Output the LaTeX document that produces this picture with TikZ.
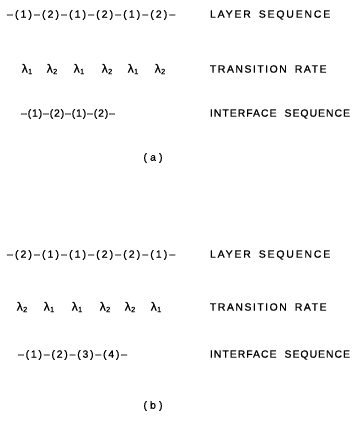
\documentclass[tikz,border=0pt]{standalone}
\usepackage{fontspec}
\setmainfont{Liberation Sans}[FakeBold=0.7]
\begin{document}
\begin{tikzpicture}[x=1pt,y=-1pt,
  every node/.style={inner sep=0pt,outer sep=0pt,font=\fontsize{10.5}{12}\selectfont},
  seq/.style={anchor=west},
  lab/.style={anchor=west},
  lam/.style={font=\fontsize{12}{14}\selectfont},
  captext/.style={font=\fontsize{10.5}{12}\selectfont\addfontfeature{LetterSpace=30}}]
\useasboundingbox (0,0) rectangle (354,423);
\newcommand{\lamsub}[1]{λ\hspace{0.3pt}\raisebox{-0.12em}{\fontsize{7.5}{8}\selectfont #1}}
\newcommand{\wsp}{\hspace{8pt}}
\newcommand{\lsp}[1]{\addfontfeature{LetterSpace=#1}}
% (a)
\node[seq,font=\fontsize{10.5}{12}\selectfont\lsp{20}] (a1) at (7,15) {–(1)–(2)–(1)–(2)–(1)–(2)–};
\node[lab,font=\fontsize{10.5}{12}\selectfont\lsp{17}] (la1) at (210,15) {LAYER\wsp SEQUENCE};
\node[lam] (al1) at (27,69) {\lamsub{1}};
\node[lam] (al2) at (52,69) {\lamsub{2}};
\node[lam] (al3) at (79,69) {\lamsub{1}};
\node[lam] (al4) at (107,69) {\lamsub{2}};
\node[lam] (al5) at (133,69) {\lamsub{1}};
\node[lam] (al6) at (160,69) {\lamsub{2}};
\node[lab,font=\fontsize{10.5}{12}\selectfont\lsp{14}] (la2) at (210,69) {TRANSITION\wsp RATE};
\node[seq,font=\fontsize{10.5}{12}\selectfont\lsp{8}] (a3) at (21,114) {–(1)–(2)–(1)–(2)–};
\node[lab,font=\fontsize{10.5}{12}\selectfont\lsp{9}] (la3) at (210,114) {INTERFACE\wsp SEQUENCE};
\node[captext] (capa) at (153,158) {(a)};
% (b)
\node[seq,font=\fontsize{10.5}{12}\selectfont\lsp{20}] (b1) at (7,255) {–(2)–(1)–(1)–(2)–(2)–(1)–};
\node[lab,font=\fontsize{10.5}{12}\selectfont\lsp{17}] (lb1) at (210,255) {LAYER\wsp SEQUENCE};
\node[lam] (bl1) at (22,307) {\lamsub{2}};
\node[lam] (bl2) at (49,307) {\lamsub{1}};
\node[lam] (bl3) at (77,307) {\lamsub{1}};
\node[lam] (bl4) at (105,307) {\lamsub{2}};
\node[lam] (bl5) at (130,307) {\lamsub{2}};
\node[lam] (bl6) at (156,307) {\lamsub{1}};
\node[lab,font=\fontsize{10.5}{12}\selectfont\lsp{14}] (lb2) at (210,307) {TRANSITION\wsp RATE};
\node[seq,font=\fontsize{10.5}{12}\selectfont\lsp{17}] (b3) at (18,355) {–(1)–(2)–(3)–(4)–};
\node[lab,font=\fontsize{10.5}{12}\selectfont\lsp{9}] (lb3) at (210,355) {INTERFACE\wsp SEQUENCE};
\node[captext] (capb) at (153,406) {(b)};
\end{tikzpicture}
\end{document}
